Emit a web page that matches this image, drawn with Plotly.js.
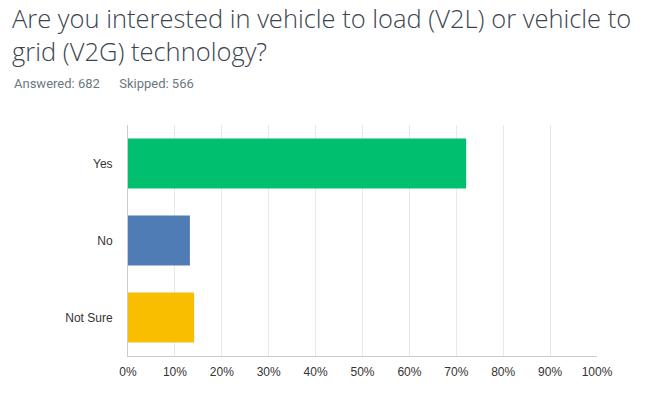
<!DOCTYPE html>
<html><head><meta charset="utf-8">
<script src="https://cdn.plot.ly/plotly-3.0.1.min.js"></script>
<style>html,body{margin:0;padding:0;background:#fff}</style>
</head><body><div id="chart" style="width:653px;height:394px"></div>
<script>
const categories = ["Yes", "No", "Not Sure"];
const percentages = [72.1, 13.2, 14.1];
const barColors = ["#00BF6F", "#507CB6", "#F9BE00"];
const xTickVals = [0, 10, 20, 30, 40, 50, 60, 70, 80, 90, 100];
const xTickText = ["0%", "10%", "20%", "30%", "40%", "50%", "60%", "70%", "80%", "90%", "100%"];
const titleText = "Are you interested in vehicle to load (V2L) or vehicle to<br>grid (V2G) technology?";
const subtitleText = "Answered: 682&nbsp;&nbsp;&nbsp;&nbsp;&nbsp;&nbsp;Skipped: 566";

const trace = {
  type: "bar", orientation: "h",
  y: categories, x: percentages,
  marker: {color: barColors},
  width: 0.65,
  hoverinfo: "none"
};
const layout = {
  width: 653, height: 394,
  margin: {l: 128, r: 56, t: 125, b: 38},
  paper_bgcolor: "#fff", plot_bgcolor: "#fff",
  showlegend: false,
  title: {
    text: titleText,
    font: {family: "Open Sans", size: 25.5, color: "#3b4550", weight: 300},
    xref: "container", x: 12/653, xanchor: "left",
    yref: "container", y: 1 - 28/394, yanchor: "top"
  },
  annotations: [{
    text: subtitleText, showarrow: false,
    xref: "paper", yref: "paper",
    x: -116/469, xanchor: "left",
    y: 1 + 41/231, yanchor: "middle",
    font: {family: "Roboto", size: 13, color: "#6b787f"}
  }],
  xaxis: {
    range: [0, 100], tickvals: xTickVals, ticktext: xTickText,
    showgrid: true, gridcolor: "#e8e8e8", gridwidth: 1,
    showline: true, linecolor: "#cccccc", linewidth: 1,
    zeroline: false, ticks: "", ticklabelstandoff: 5,
    tickfont: {family: "Liberation Sans, Arial", size: 12, color: "#333333"},
    fixedrange: true
  },
  yaxis: {
    autorange: "reversed",
    showline: true, linecolor: "#cccccc", linewidth: 1,
    showgrid: false, ticks: "", ticklabelstandoff: 12,
    tickfont: {family: "Liberation Sans, Arial", size: 12, color: "#333333"},
    fixedrange: true
  },
  bargap: 0.35
};
Plotly.newPlot("chart", [trace], layout, {displayModeBar: false, staticPlot: true});
</script></body></html>
